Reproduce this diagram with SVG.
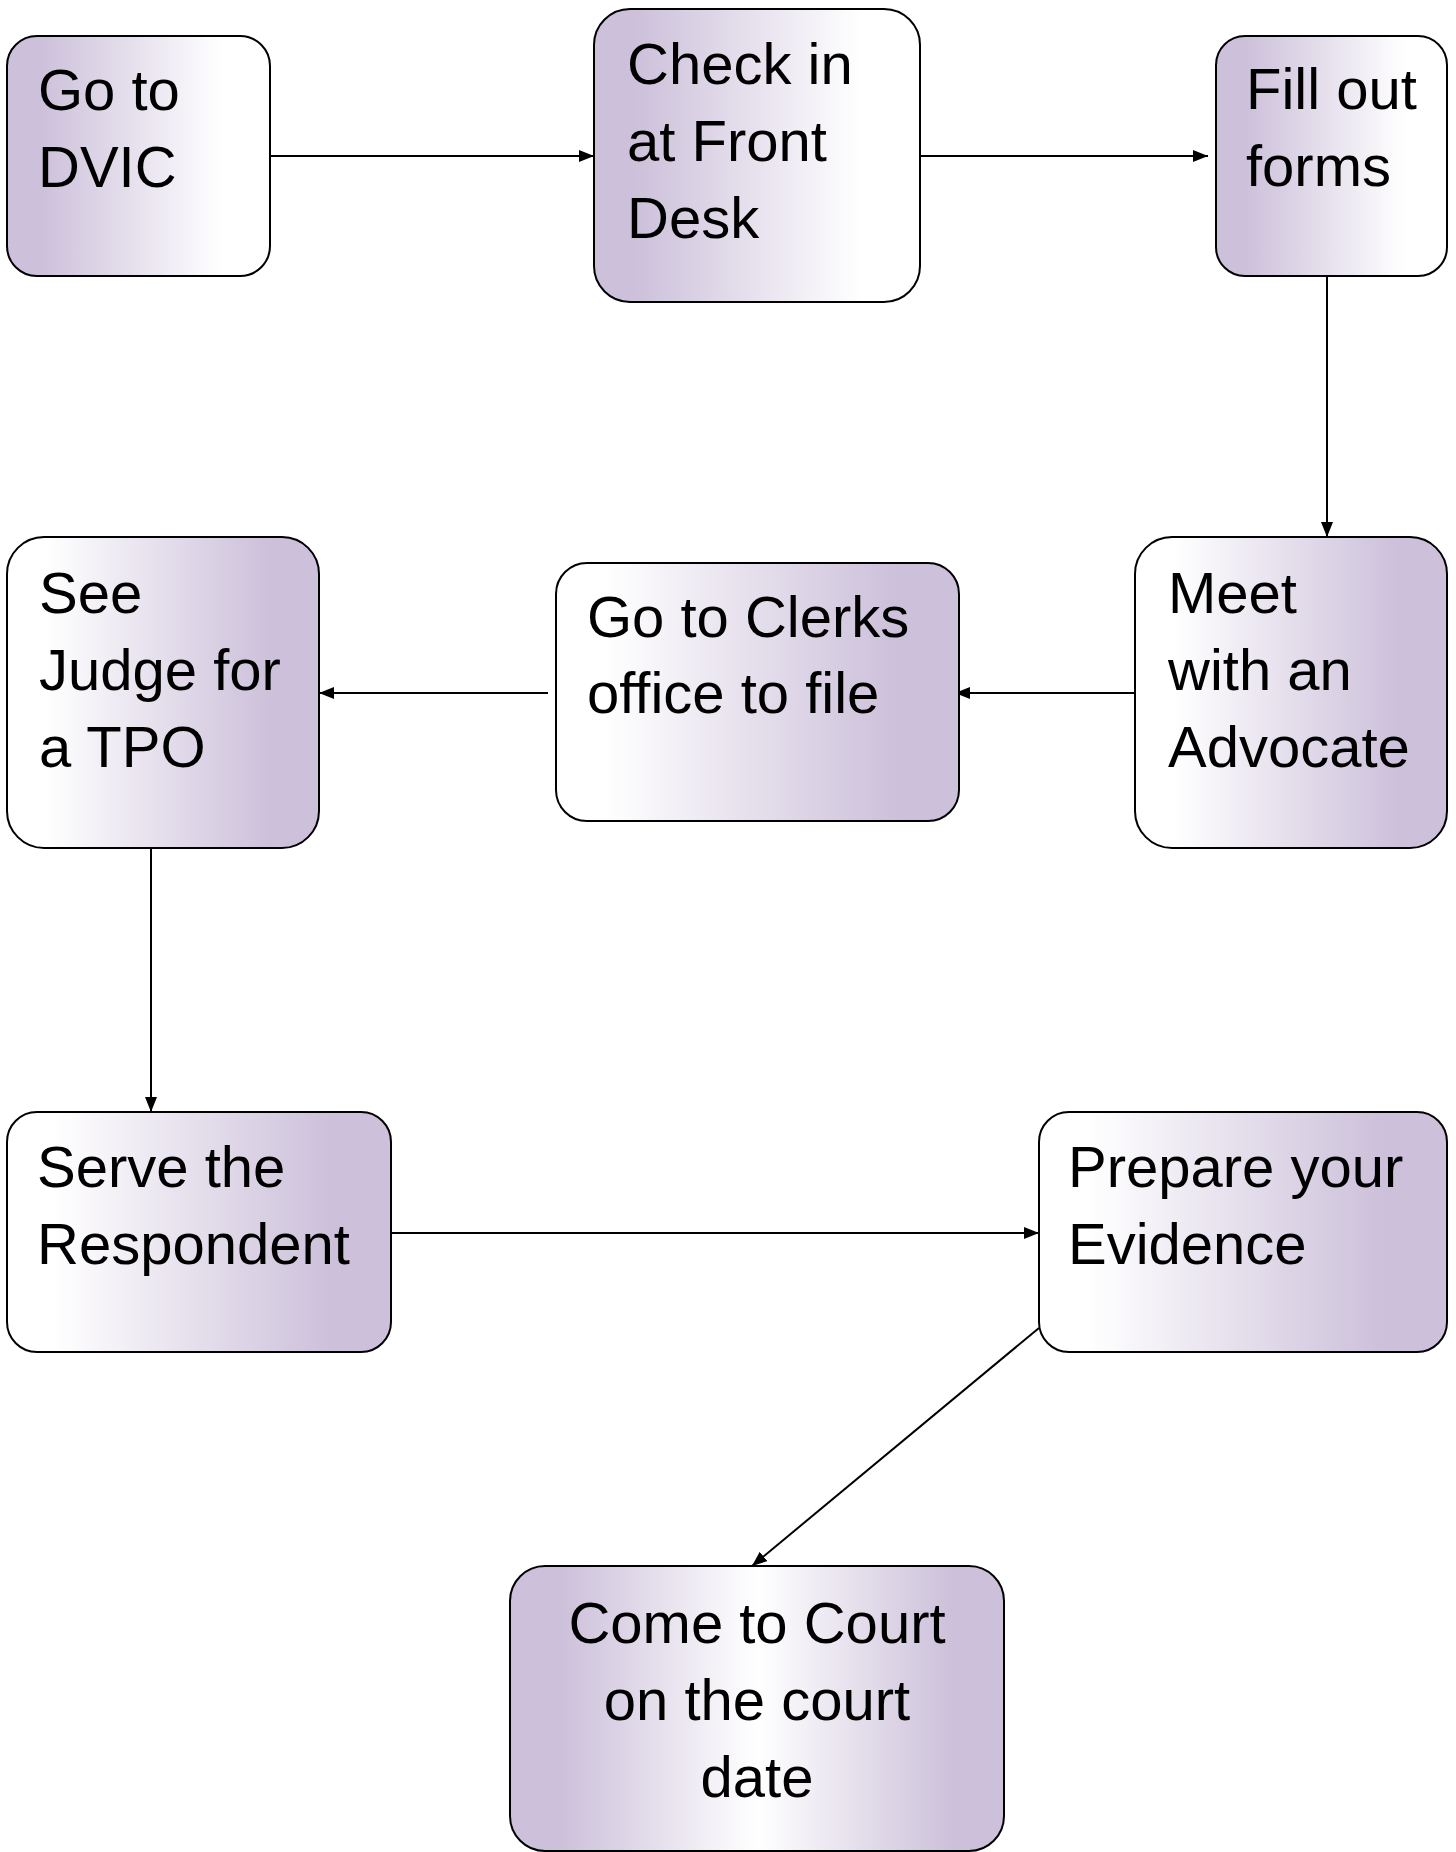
<svg xmlns="http://www.w3.org/2000/svg" width="1456" height="1852" viewBox="0 0 1456 1852">
  <style>
    .box { stroke: #000; stroke-width: 2; }
    .lp { fill: url(#gLeftPurple); }
    .rp { fill: url(#gRightPurple); }
    .cp { fill: url(#gCenterWhite); }
    .lbl { font-family: "Liberation Sans", Arial, sans-serif; font-size: 58px; fill: #000; }
    .mid { text-anchor: middle; }
    .conn { stroke: #000; stroke-width: 2; fill: none; marker-end: url(#arrow); }
  </style>
  <defs>
    <linearGradient id="gLeftPurple" x1="0" y1="0" x2="1" y2="0">
      <stop offset="0.12" stop-color="#CCC0DA"/>
      <stop offset="0.82" stop-color="#FFFFFF"/>
    </linearGradient>
    <linearGradient id="gRightPurple" x1="0" y1="0" x2="1" y2="0">
      <stop offset="0.12" stop-color="#FFFFFF"/>
      <stop offset="0.85" stop-color="#CCC0DA"/>
    </linearGradient>
    <linearGradient id="gCenterWhite" x1="0" y1="0" x2="1" y2="0">
      <stop offset="0.1" stop-color="#CCC0DA"/>
      <stop offset="0.5" stop-color="#FFFFFF"/>
      <stop offset="0.9" stop-color="#CCC0DA"/>
    </linearGradient>
    <marker id="arrow" markerUnits="userSpaceOnUse" markerWidth="16" markerHeight="14" refX="15" refY="6" orient="auto">
      <path d="M0,0 L15,6 L0,12 z" fill="#000"/>
    </marker>
  </defs>

  <g id="connectors">
    <line class="conn" x1="270" y1="156" x2="594" y2="156"/>
    <line class="conn" x1="920" y1="156" x2="1208" y2="156"/>
    <line class="conn" x1="1327" y1="276" x2="1327" y2="537"/>
    <line class="conn" x1="1135" y1="693" x2="955" y2="693"/>
    <line class="conn" x1="548" y1="693" x2="319" y2="693"/>
    <line class="conn" x1="151" y1="848" x2="151" y2="1112"/>
    <line class="conn" x1="391" y1="1233" x2="1039" y2="1233"/>
    <line class="conn" x1="1039" y1="1328" x2="752" y2="1566"/>
  </g>

  <g id="node-go-to-dvic">
    <rect class="box lp" x="7" y="36" width="263" height="240" rx="30" ry="30"/>
    <text class="lbl" x="38" y="110">Go to</text>
    <text class="lbl" x="38" y="187">DVIC</text>
  </g>

  <g id="node-check-in">
    <rect class="box lp" x="594" y="9" width="326" height="293" rx="36" ry="36"/>
    <text class="lbl" x="627" y="84">Check in</text>
    <text class="lbl" x="627" y="161">at Front</text>
    <text class="lbl" x="627" y="238">Desk</text>
  </g>

  <g id="node-fill-out-forms">
    <rect class="box lp" x="1216" y="36" width="231" height="240" rx="29" ry="29"/>
    <text class="lbl" x="1246" y="109">Fill out</text>
    <text class="lbl" x="1246" y="186">forms</text>
  </g>

  <g id="node-meet-advocate">
    <rect class="box rp" x="1135" y="537" width="312" height="311" rx="37" ry="37"/>
    <text class="lbl" x="1168" y="613">Meet</text>
    <text class="lbl" x="1168" y="690">with an</text>
    <text class="lbl" x="1168" y="767">Advocate</text>
  </g>

  <g id="node-clerks-office">
    <rect class="box rp" x="556" y="563" width="403" height="258" rx="31" ry="31"/>
    <text class="lbl" x="587" y="637">Go to Clerks</text>
    <text class="lbl" x="587" y="713">office to file</text>
  </g>

  <g id="node-see-judge">
    <rect class="box rp" x="7" y="537" width="312" height="311" rx="37" ry="37"/>
    <text class="lbl" x="39" y="613">See</text>
    <text class="lbl" x="39" y="690">Judge for</text>
    <text class="lbl" x="39" y="767">a TPO</text>
  </g>

  <g id="node-serve-respondent">
    <rect class="box rp" x="7" y="1112" width="384" height="240" rx="30" ry="30"/>
    <text class="lbl" x="37" y="1187">Serve the</text>
    <text class="lbl" x="37" y="1264">Respondent</text>
  </g>

  <g id="node-prepare-evidence">
    <rect class="box rp" x="1039" y="1112" width="408" height="240" rx="30" ry="30"/>
    <text class="lbl" x="1068" y="1187">Prepare your</text>
    <text class="lbl" x="1068" y="1264">Evidence</text>
  </g>

  <g id="node-come-to-court">
    <rect class="box cp" x="510" y="1566" width="494" height="285" rx="35" ry="35"/>
    <text class="lbl mid" x="757" y="1643">Come to Court</text>
    <text class="lbl mid" x="757" y="1720">on the court</text>
    <text class="lbl mid" x="757" y="1797">date</text>
  </g>
</svg>
